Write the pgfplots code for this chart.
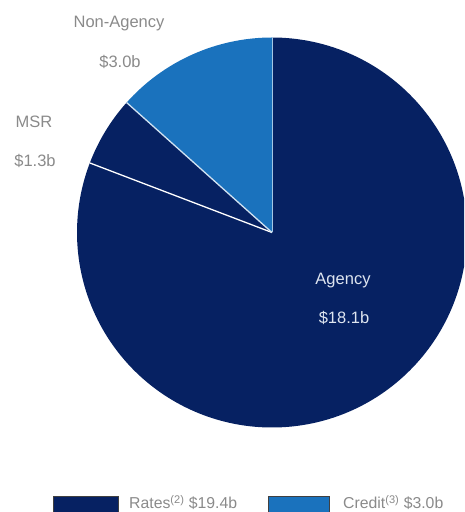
\documentclass[border=0pt]{standalone}
\usepackage{fontspec}
\setmainfont{Liberation Sans}
\usepackage{pgfplots}
\usepackage{pgfplotstable}
\pgfplotsset{compat=1.18}
\definecolor{navy}{RGB}{6,33,98}
\definecolor{cblue}{RGB}{26,114,189}
\definecolor{lgray}{RGB}{138,138,138}
\definecolor{ltext}{RGB}{222,229,240}

\pgfplotstableread{
label value
Agency 18.1
MSR 1.3
NonAgency 3.0
}\piedata

\begin{document}
\begin{tikzpicture}
\pgfplotstablegetelem{0}{value}\of\piedata \let\vA\pgfplotsretval
\pgfplotstablegetelem{1}{value}\of\piedata \let\vB\pgfplotsretval
\pgfplotstablegetelem{2}{value}\of\piedata \let\vC\pgfplotsretval
\pgfmathsetmacro\tot{\vA+\vB+\vC}
\pgfmathsetmacro\aA{90-360*\vA/\tot}
\pgfmathsetmacro\aB{\aA-360*\vB/\tot}
\pgfmathsetmacro\aC{\aB-360*\vC/\tot}
\begin{axis}[hide axis, scale only axis, width=464pt, height=512pt,
  xmin=0, xmax=464, ymin=0, ymax=512, clip=true]
% wedges
\fill[navy] (axis cs:272,279.5) -- ++(90:195pt) arc[start angle=90, end angle=\aA, radius=195pt] -- cycle;
\fill[navy] (axis cs:272,279.5) -- ++(\aA:195pt) arc[start angle=\aA, end angle=\aB, radius=195pt] -- cycle;
\fill[cblue] (axis cs:272,279.5) -- ++(\aB:195pt) arc[start angle=\aB, end angle=\aC, radius=195pt] -- cycle;
% separators
\draw[white, line width=1.3pt] (axis cs:272,279.5) -- ++(\aA:195pt);
\draw[white!80!cblue, line width=1.3pt] (axis cs:272,279.5) -- ++(\aB:195pt);
\draw[white!60!cblue, line width=1pt] (axis cs:272,279.5) -- ++(90:195pt);
% labels
\node[anchor=base, text=lgray, font=\fontsize{16.5}{19}\selectfont, inner sep=0pt] at (axis cs:119,484) {Non-Agency};
\node[anchor=base, text=lgray, font=\fontsize{16.5}{19}\selectfont, inner sep=0pt] at (axis cs:120,444) {\$3.0b};
\node[anchor=base, text=lgray, font=\fontsize{16.5}{19}\selectfont, inner sep=0pt] at (axis cs:34,384) {MSR};
\node[anchor=base, text=lgray, font=\fontsize{16.5}{19}\selectfont, inner sep=0pt] at (axis cs:35,345) {\$1.3b};
\node[anchor=base, text=ltext, font=\fontsize{16.5}{19}\selectfont, inner sep=0pt] at (axis cs:343,227) {Agency};
\node[anchor=base, text=ltext, font=\fontsize{16.5}{19}\selectfont, inner sep=0pt] at (axis cs:344,188) {\$18.1b};
% legend
\filldraw[fill=navy, draw=black!75, line width=0.6pt] (axis cs:53,-4) rectangle (axis cs:118,16);
\filldraw[fill=cblue, draw=black!75, line width=0.6pt] (axis cs:268,-4) rectangle (axis cs:329,16);
\node[anchor=base west, text=lgray, font=\fontsize{15.8}{18}\selectfont, inner sep=0pt] at (axis cs:129,3) {Rates\textsuperscript{(2)} \$19.4b};
\node[anchor=base west, text=lgray, font=\fontsize{15.8}{18}\selectfont, inner sep=0pt] at (axis cs:343,3) {Credit\textsuperscript{(3)} \$3.0b};
\end{axis}
\pgfresetboundingbox
\path[use as bounding box] (0,0) rectangle (464pt,512pt);
\end{tikzpicture}
\end{document}
